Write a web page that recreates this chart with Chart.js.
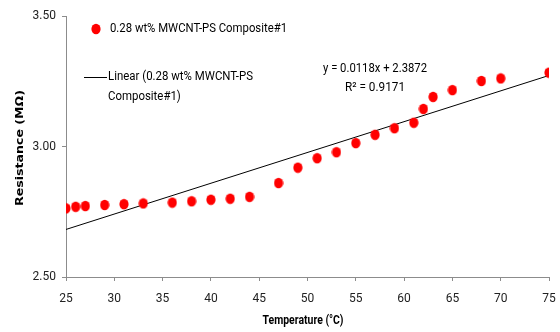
<!DOCTYPE html>
<html>
<head>
<meta charset="utf-8">
<script src="https://cdn.jsdelivr.net/npm/chart.js@4/dist/chart.umd.min.js"></script>
<style>
html,body{margin:0;padding:0;background:#fff;}
#wrap{width:560px;height:332px;position:relative;}
</style>
</head>
<body>
<div id="wrap"><canvas id="c" width="560" height="332"></canvas></div>
<script>
const temperatures = [25,26,27,29,31,33,36,38,40,42,44,47,49,51,53,55,57,59,61,62,63,65,68,70,75];
const resistance = [2.763,2.769,2.772,2.776,2.779,2.782,2.785,2.790,2.796,2.800,2.807,2.860,2.919,2.955,2.978,3.013,3.045,3.070,3.091,3.144,3.190,3.216,3.251,3.261,3.283];
const trendSlope = 0.0118;
const trendIntercept = 2.3872;
const trendX = [25, 75];
const xTicks = [25,30,35,40,45,50,55,60,65,70,75];
const yTicks = [2.50,3.00,3.50];
const seriesName = '0.28 wt% MWCNT-PS Composite#1';
const trendNameLines = ['Linear (0.28 wt% MWCNT-PS', 'Composite#1)'];
const eqLines = ['y = 0.0118x + 2.3872', 'R\u00B2 = 0.9171'];
const xTitle = 'Temperature (\u00B0C)';
const yTitle = 'Resistance (M\u03A9)';

const FONT = 'Roboto, "Open Sans", sans-serif';

const scatterData = temperatures.map((t,i)=>({x:t,y:resistance[i]}));
const trendData = trendX.map(t=>({x:t,y:trendSlope*t+trendIntercept}));

// elliptical red marker
const marker = document.createElement('canvas');
marker.width = 10; marker.height = 12;
(function(){
  const m = marker.getContext('2d');
  m.fillStyle = '#ff0000';
  m.beginPath(); m.ellipse(5, 6, 4.6, 5.3, 0, 0, Math.PI*2); m.fill();
})();

function fitText(ctx, text, x, y, width, align){
  const w = ctx.measureText(text).width;
  const s = width / w;
  ctx.save();
  let x0 = x;
  if (align === 'center') x0 = x - width/2;
  ctx.translate(x0, y);
  ctx.scale(s, 1);
  ctx.textAlign = 'left';
  ctx.fillText(text, 0, 0);
  ctx.restore();
}

const overlay = {
  id:'overlay',
  afterDraw(chart){
    const ctx = chart.ctx;
    ctx.save();
    ctx.font = '12.5px ' + FONT;
    ctx.textBaseline = 'middle';
    // legend item 1
    ctx.drawImage(marker, 91, 23);
    ctx.fillStyle = '#000';
    fitText(ctx, seriesName, 110, 29, 177, 'left');
    // legend item 2
    ctx.strokeStyle = '#000';
    ctx.lineWidth = 1;
    ctx.beginPath();
    ctx.moveTo(84, 77.5); ctx.lineTo(107, 77.5);
    ctx.stroke();
    fitText(ctx, trendNameLines[0], 108, 77, 145, 'left');
    fitText(ctx, trendNameLines[1], 108, 97, ctx.measureText(trendNameLines[1]).width*145/ctx.measureText(trendNameLines[0]).width, 'left');
    // equation
    fitText(ctx, eqLines[0], 375, 69, 104, 'center');
    fitText(ctx, eqLines[1], 375, 88, 60, 'center');
    // x title
    ctx.font = 'bold 12.5px ' + FONT;
    fitText(ctx, xTitle, 303, 321, 81, 'center');
    // y title
    ctx.font = 'bold 11px "DejaVu Sans", sans-serif';
    ctx.save();
    ctx.translate(20, 148);
    ctx.rotate(-Math.PI/2);
    fitText(ctx, yTitle, 0, 0, 116, 'center');
    ctx.restore();
    ctx.restore();
  }
};

new Chart(document.getElementById('c'), {
  type:'scatter',
  data:{
    datasets:[
      {label:seriesName, data:scatterData, pointStyle:marker, pointRadius:5, pointHoverRadius:5, order:1},
      {type:'line', label:'Linear', data:trendData, borderColor:'#000', borderWidth:1, pointRadius:0, fill:false, showLine:true, order:2}
    ]
  },
  options:{
    responsive:false,
    animation:false,
    events:[],
    layout:{padding:{left:0,right:11,top:16,bottom:0}},
    plugins:{legend:{display:false},tooltip:{enabled:false}},
    scales:{
      x:{
        type:'linear', min:25, max:75,
        afterBuildTicks(axis){ axis.ticks = xTicks.map(v=>({value:v})); },
        afterFit(axis){ axis.height = 55; axis.paddingLeft = 0; axis.paddingRight = 0; },
        grid:{display:true, drawOnChartArea:false, drawTicks:true, tickLength:4, color:'#8c8c8c'},
        border:{display:true, color:'#8c8c8c', width:1},
        ticks:{color:'#222', font:{family:FONT, size:12}, padding:11, maxRotation:0, autoSkip:false},
        title:{display:false}
      },
      y:{
        type:'linear', min:2.5, max:3.5,
        afterBuildTicks(axis){ axis.ticks = yTicks.map(v=>({value:v})); },
        afterFit(axis){ axis.width = 66; axis.paddingTop = 0; axis.paddingBottom = 0; },
        grid:{display:true, drawOnChartArea:false, drawTicks:true, tickLength:4, color:'#8c8c8c'},
        border:{display:true, color:'#8c8c8c', width:1},
        ticks:{color:'#222', font:{family:FONT, size:12}, padding:6, callback:v=>Number(v).toFixed(2)},
        title:{display:false}
      }
    }
  },
  plugins:[overlay]
});
</script>
</body>
</html>
